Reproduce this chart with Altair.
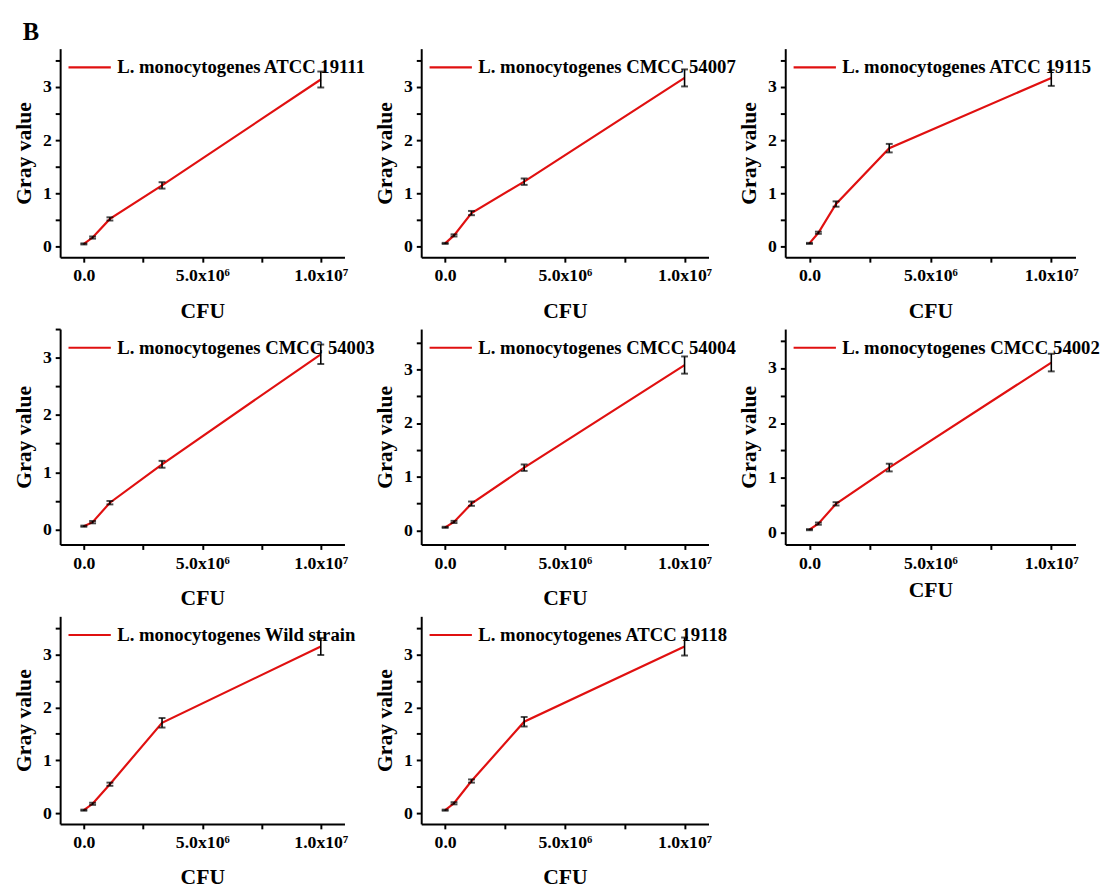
import altair as alt
import pandas as pd

strains = [
    "L. monocytogenes ATCC 19111",
    "L. monocytogenes CMCC 54007",
    "L. monocytogenes ATCC 19115",
    "L. monocytogenes CMCC 54003",
    "L. monocytogenes CMCC 54004",
    "L. monocytogenes CMCC 54002",
    "L. monocytogenes Wild strain",
    "L. monocytogenes ATCC 19118",
]
cfu = [0, 3.7e5, 1.1e6, 3.3e6, 1.0e7]
gray_19111 = [0.05, 0.17, 0.52, 1.15, 3.14]
gray_54007 = [0.06, 0.21, 0.63, 1.22, 3.17]
gray_19115 = [0.06, 0.26, 0.80, 1.85, 3.17]
gray_54003 = [0.06, 0.13, 0.47, 1.14, 3.06]
gray_54004 = [0.06, 0.16, 0.50, 1.17, 3.08]
gray_54002 = [0.06, 0.17, 0.53, 1.19, 3.10]
gray_wild = [0.06, 0.18, 0.55, 1.71, 3.15]
gray_19118 = [0.06, 0.19, 0.61, 1.73, 3.15]
err_19111 = [0.01, 0.02, 0.03, 0.06, 0.15]
err_54007 = [0.01, 0.02, 0.04, 0.06, 0.16]
err_19115 = [0.01, 0.02, 0.05, 0.08, 0.15]
err_54003 = [0.01, 0.02, 0.03, 0.06, 0.17]
err_54004 = [0.01, 0.02, 0.04, 0.06, 0.16]
err_54002 = [0.01, 0.02, 0.03, 0.07, 0.16]
err_wild = [0.01, 0.02, 0.03, 0.09, 0.16]
err_19118 = [0.01, 0.02, 0.03, 0.09, 0.17]

grays = [gray_19111, gray_54007, gray_19115, gray_54003, gray_54004, gray_54002, gray_wild, gray_19118]
errs = [err_19111, err_54007, err_19115, err_54003, err_54004, err_54002, err_wild, err_19118]

x_tick_values = [0, 2.5e6, 5e6, 7.5e6, 1e7]
x_tick_labels = ["0.0", "", "5.0x10⁶", "", "1.0x10⁷"]
y_tick_values = [0, 0.5, 1, 1.5, 2, 2.5, 3, 3.5]
y_tick_labels = ["0", "", "1", "", "2", "", "3", ""]

y_min = [-0.2, -0.2, -0.2, -0.26, -0.26, -0.21, -0.2, -0.2]
y_max = [3.72, 3.72, 3.72, 3.5, 3.75, 3.71, 3.72, 3.72]

col_w = [289, 292, 295]
row_h = [212, 219, 211]

FONT = "Liberation Serif"
RED = "#e01010"


def label_expr(values, labels):
    expr = "''"
    for v, l in reversed(list(zip(values, labels))):
        expr = f"(abs(datum.value - {v}) < 1e-6 ? '{l}' : {expr})"
    return expr


def panel(i):
    df = pd.DataFrame({
        "CFU": cfu,
        "gray": grays[i],
        "lo": [g - e for g, e in zip(grays[i], errs[i])],
        "hi": [g + e for g, e in zip(grays[i], errs[i])],
        "strain": strains[i],
    })
    xs = alt.Scale(domain=[-1e6, 1.1e7], nice=False, zero=False)
    ys = alt.Scale(domain=[y_min[i], y_max[i]], nice=False, zero=False)
    xaxis = alt.Axis(values=x_tick_values, labelExpr=label_expr(x_tick_values, x_tick_labels),
                     title="CFU", grid=False, titlePadding=8 if i == 5 else 16,
                     labelPadding=5, labelFlush=False, labelOverlap=False)
    yaxis = alt.Axis(values=y_tick_values, labelExpr=label_expr(y_tick_values, y_tick_labels),
                     title="Gray value", grid=False, titlePadding=7, labelPadding=4)
    base = alt.Chart(df)
    x = alt.X("CFU:Q", scale=xs, axis=xaxis)
    line = base.mark_line(strokeWidth=2.2).encode(
        x=x,
        y=alt.Y("gray:Q", scale=ys, axis=yaxis),
        color=alt.Color("strain:N", scale=alt.Scale(range=[RED]),
                        legend=alt.Legend(orient="none", legendX=7, legendY=-4, title=None,
                                          symbolType="stroke", symbolSize=1850,
                                          symbolStrokeWidth=2.2, symbolStrokeColor=RED,
                                          labelFont=FONT, labelFontSize=19, labelFontWeight="bold",
                                          labelColor="black", labelLimit=400, padding=0,
                                          labelOffset=5)),
    )
    rule = base.mark_rule(color="black", strokeWidth=1.6).encode(
        x=x, y=alt.Y("lo:Q", scale=ys, axis=yaxis), y2="hi:Q")
    cap_lo = base.mark_tick(color="black", orient="horizontal", size=7, thickness=2).encode(
        x=x, y=alt.Y("lo:Q", scale=ys, axis=yaxis))
    cap_hi = base.mark_tick(color="black", orient="horizontal", size=7, thickness=2).encode(
        x=x, y=alt.Y("hi:Q", scale=ys, axis=yaxis))
    return alt.layer(line, rule, cap_lo, cap_hi).properties(
        width=col_w[i % 3], height=row_h[i // 3])


panels = [panel(i) for i in range(len(strains))]

chart = alt.concat(
    *panels, columns=3,
    spacing=alt.RowColnumber(row=73, column=78),
    bounds="flush", align="each",
).resolve_scale(
    x="independent", y="independent", color="independent"
).properties(
    title=alt.TitleParams(text="B", anchor="start", fontSize=25, font=FONT,
                          fontWeight="bold", color="black", dx=10, offset=0, frame="bounds"),
    background="white",
).configure_view(stroke=None).configure_axis(
    domainColor="black", domainWidth=2, tickColor="black", tickWidth=2, tickSize=5,
    labelFont=FONT, labelFontSize=18, labelFontWeight="bold", labelColor="black",
    titleFont=FONT, titleFontSize=22, titleFontWeight="bold", titleColor="black",
)

chart.save("out.html", embed_options={"renderer": "svg", "actions": False})
